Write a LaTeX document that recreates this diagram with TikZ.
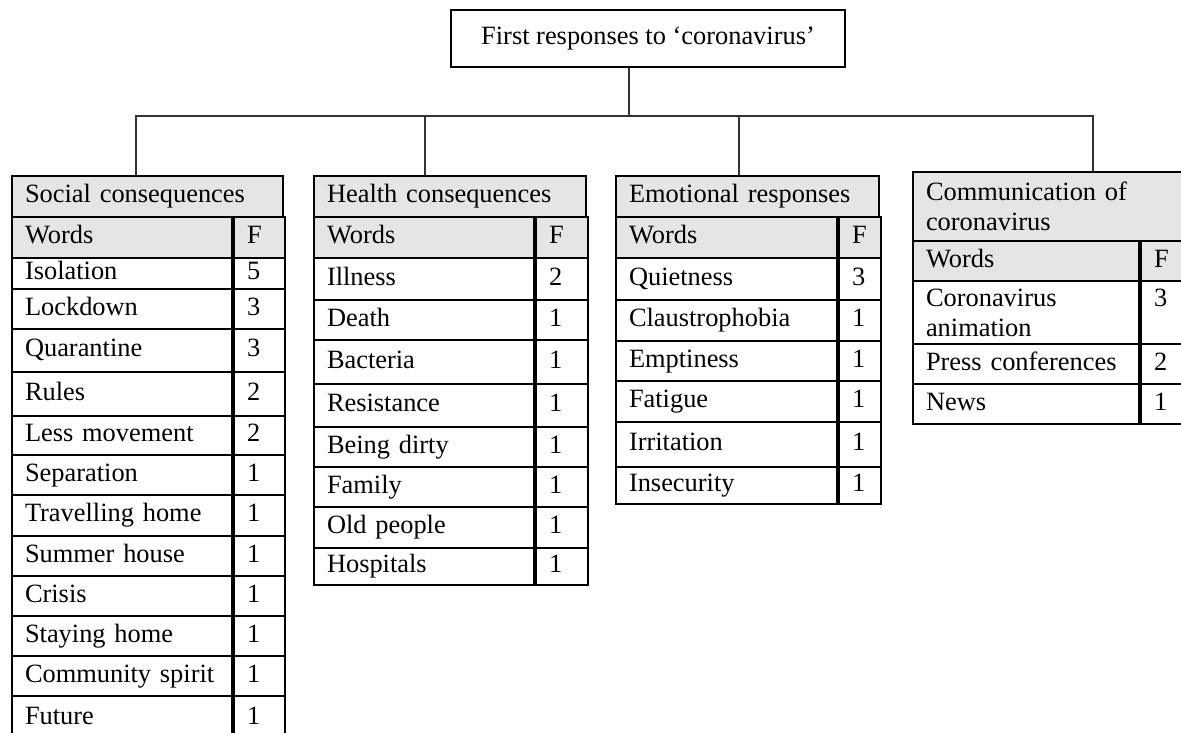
\documentclass[tikz,border=0pt]{standalone}
\usepackage{fontspec}
\setmainfont{Liberation Serif}

\tikzset{
    boxline/.style={draw, line width=2pt},
    cellbase/.style={draw, line width=2pt, anchor=north west, inner xsep=13pt, inner ysep=0pt, align=left},
    cell/.style={cellbase, text height=18pt, text depth=6pt},
    word/.style={cell, text width=194pt},
    freq/.style={cell, text width=#1},
    head/.style={fill=black!10},
    link/.style={line width=1.4pt, black!80},
}

\begin{document}
\begin{tikzpicture}[x=1pt, y=-1pt, font=\fontsize{26.4pt}{30pt}\selectfont]
    \useasboundingbox[fill=white] (0,0) rectangle (1181,733);

    \node[boxline, minimum width=394pt, minimum height=57pt, inner sep=0pt] (first) at (648,38.5) {First responses to ‘coronavirus’};
    \coordinate (hub) at (629,116);

    % social consequences
    \node[cell, head, text width=245pt, minimum height=41pt] (soc) at (11,175) {Social consequences};
    \node[word, head, minimum height=41pt] (socw) at (11,216) {Words};
    \node[freq=25pt, head, minimum height=41pt] (socf) at (socw.north east) {F};
    \node[word, minimum height=31pt] (soc1) at (11,257) {Isolation};
    \node[freq=25pt, minimum height=31pt] (soc1f) at (soc1.north east) {5};
    \node[word, minimum height=40pt] (soc2) at (11,288) {Lockdown};
    \node[freq=25pt, minimum height=40pt] (soc2f) at (soc2.north east) {3};
    \node[word, minimum height=43pt] (soc3) at (11,328) {Quarantine};
    \node[freq=25pt, minimum height=43pt] (soc3f) at (soc3.north east) {3};
    \node[word, minimum height=44pt] (soc4) at (11,371) {Rules};
    \node[freq=25pt, minimum height=44pt] (soc4f) at (soc4.north east) {2};
    \node[word, minimum height=39pt] (soc5) at (11,415) {Less movement};
    \node[freq=25pt, minimum height=39pt] (soc5f) at (soc5.north east) {2};
    \node[word, minimum height=40pt] (soc6) at (11,454) {Separation};
    \node[freq=25pt, minimum height=40pt] (soc6f) at (soc6.north east) {1};
    \node[word, minimum height=41pt] (soc7) at (11,494) {Travelling home};
    \node[freq=25pt, minimum height=41pt] (soc7f) at (soc7.north east) {1};
    \node[word, minimum height=40pt] (soc8) at (11,535) {Summer house};
    \node[freq=25pt, minimum height=40pt] (soc8f) at (soc8.north east) {1};
    \node[word, minimum height=40pt] (soc9) at (11,575) {Crisis};
    \node[freq=25pt, minimum height=40pt] (soc9f) at (soc9.north east) {1};
    \node[word, minimum height=40pt] (soc10) at (11,615) {Staying home};
    \node[freq=25pt, minimum height=40pt] (soc10f) at (soc10.north east) {1};
    \node[word, minimum height=40pt] (soc11) at (11,655) {Community spirit};
    \node[freq=25pt, minimum height=40pt] (soc11f) at (soc11.north east) {1};
    \node[word, minimum height=45pt] (soc12) at (11,695) {Future};
    \node[freq=25pt, minimum height=45pt] (soc12f) at (soc12.north east) {1};

    % health consequences
    \node[cell, head, text width=246pt, minimum height=41pt] (hea) at (313,175) {Health consequences};
    \node[word, head, minimum height=41pt] (heaw) at (313,216) {Words};
    \node[freq=26pt, head, minimum height=41pt] (heaf) at (heaw.north east) {F};
    \node[word, minimum height=42pt] (hea1) at (313,257) {Illness};
    \node[freq=26pt, minimum height=42pt] (hea1f) at (hea1.north east) {2};
    \node[word, minimum height=40pt] (hea2) at (313,299) {Death};
    \node[freq=26pt, minimum height=40pt] (hea2f) at (hea2.north east) {1};
    \node[word, minimum height=44pt] (hea3) at (313,339) {Bacteria};
    \node[freq=26pt, minimum height=44pt] (hea3f) at (hea3.north east) {1};
    \node[word, minimum height=43pt] (hea4) at (313,383) {Resistance};
    \node[freq=26pt, minimum height=43pt] (hea4f) at (hea4.north east) {1};
    \node[word, minimum height=40pt] (hea5) at (313,426) {Being dirty};
    \node[freq=26pt, minimum height=40pt] (hea5f) at (hea5.north east) {1};
    \node[word, minimum height=40pt] (hea6) at (313,466) {Family};
    \node[freq=26pt, minimum height=40pt] (hea6f) at (hea6.north east) {1};
    \node[word, minimum height=41pt] (hea7) at (313,506) {Old people};
    \node[freq=26pt, minimum height=41pt] (hea7f) at (hea7.north east) {1};
    \node[word, minimum height=37pt] (hea8) at (313,547) {Hospitals};
    \node[freq=26pt, minimum height=37pt] (hea8f) at (hea8.north east) {1};

    % emotional responses
    \node[cell, head, text width=237pt, minimum height=41pt] (emo) at (615,175) {Emotional responses};
    \node[word, head, text width=195pt, minimum height=41pt] (emow) at (615,216) {Words};
    \node[freq=16pt, head, minimum height=41pt] (emof) at (emow.north east) {F};
    \node[word, text width=195pt, minimum height=42pt] (emo1) at (615,257) {Quietness};
    \node[freq=16pt, minimum height=42pt] (emo1f) at (emo1.north east) {3};
    \node[word, text width=195pt, minimum height=41pt] (emo2) at (615,299) {Claustrophobia};
    \node[freq=16pt, minimum height=41pt] (emo2f) at (emo2.north east) {1};
    \node[word, text width=195pt, minimum height=40pt] (emo3) at (615,340) {Emptiness};
    \node[freq=16pt, minimum height=40pt] (emo3f) at (emo3.north east) {1};
    \node[word, text width=195pt, minimum height=41pt] (emo4) at (615,380) {Fatigue};
    \node[freq=16pt, minimum height=41pt] (emo4f) at (emo4.north east) {1};
    \node[word, text width=195pt, minimum height=45pt] (emo5) at (615,421) {Irritation};
    \node[freq=16pt, minimum height=45pt] (emo5f) at (emo5.north east) {1};
    \node[word, text width=195pt, minimum height=37pt] (emo6) at (615,466) {Insecurity};
    \node[freq=16pt, minimum height=37pt] (emo6f) at (emo6.north east) {1};

    % communication of coronavirus
    \node[cellbase, head, text width=257pt, minimum height=69pt] (com) at (912,171) {Communication of\\coronavirus};
    \node[word, head, text width=200pt, minimum height=40pt] (comw) at (912,240) {Words};
    \node[freq=31pt, head, minimum height=40pt] (comf) at (comw.north east) {F};
    \node[cellbase, text width=200pt, minimum height=63pt] (com1) at (912,280) {Coronavirus\\animation};
    \node[freq=31pt, text depth=30pt, minimum height=63pt] (com1f) at (com1.north east) {3};
    \node[word, text width=200pt, minimum height=40pt] (com2) at (912,343) {Press conferences};
    \node[freq=31pt, minimum height=40pt] (com2f) at (com2.north east) {2};
    \node[word, text width=200pt, minimum height=40pt] (com3) at (912,383) {News};
    \node[freq=31pt, minimum height=40pt] (com3f) at (com3.north east) {1};

    % tree
    \draw[link] (first.south -| hub) -- (hub);
    \draw[link] ([xshift=-11.5pt]soc.north) -- ([xshift=-11.5pt]soc.north |- hub) -- ([xshift=38.5pt]com.north |- hub) -- ([xshift=38.5pt]com.north);
    \draw[link] ([xshift=-25pt]hea.north) -- ([xshift=-25pt]hea.north |- hub);
    \draw[link] ([xshift=-8.5pt]emo.north) -- ([xshift=-8.5pt]emo.north |- hub);

\end{tikzpicture}
\end{document}
